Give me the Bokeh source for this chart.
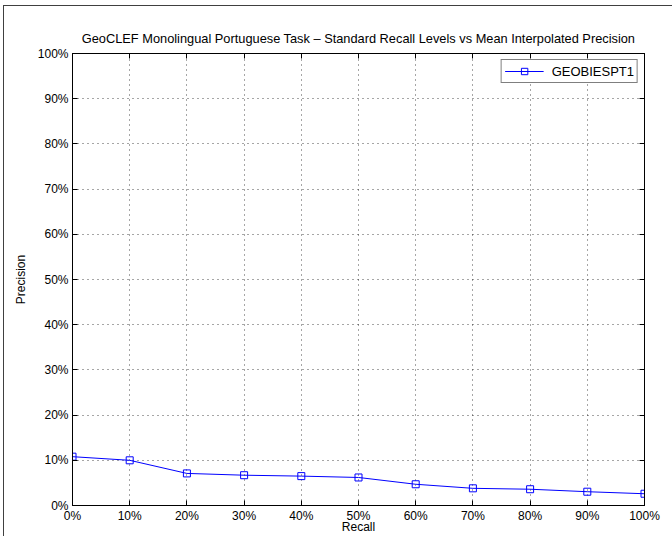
from bokeh.plotting import figure
from bokeh.models import (LinearAxis, FixedTicker, PrintfTickFormatter, Range1d,
                          CustomLabelingPolicy, InlineStyleSheet)
from bokeh.embed import file_html
from bokeh.resources import INLINE

# ---- data ----
recall_levels = [0, 10, 20, 30, 40, 50, 60, 70, 80, 90, 100]
precision_geobiespt1 = [10.8, 10.0, 7.1, 6.7, 6.5, 6.2, 4.7, 3.8, 3.6, 3.05, 2.6]
series_name = "GEOBIESPT1"
x_ticks = [0, 10, 20, 30, 40, 50, 60, 70, 80, 90, 100]
y_ticks = [0, 10, 20, 30, 40, 50, 60, 70, 80, 90, 100]
title_text = "GeoCLEF Monolingual Portuguese Task \u2013 Standard Recall Levels vs Mean Interpolated Precision"
x_label = "Recall"
y_label = "Precision"

FONT = "Liberation Sans"
BLUE = "#0000ff"
TICK_FS = "12px"

p = figure(width=672, height=536, output_backend="svg", toolbar_location=None,
           x_range=Range1d(0, 100), y_range=Range1d(0, 100),
           min_border_left=72, min_border_right=28, min_border_top=53,
           min_border_bottom=31, x_axis_label=x_label, y_axis_label=y_label)
p.background_fill_color = "white"
p.border_fill_color = "white"
p.outline_line_color = "black"
p.outline_line_width = 1
p.outline_line_alpha = 1
# thin dark window edge along the top and left, as in the reference screenshot
p.stylesheets = [InlineStyleSheet(css="""
:host { position: relative; }
:host::after {
  content: "";
  position: absolute;
  left: 3px; top: 5px;
  width: calc(100% - 3px); height: calc(100% - 5px);
  box-sizing: border-box;
  border-top: 1.5px solid #404040;
  border-left: 1.5px solid #404040;
  pointer-events: none;
  z-index: 10;
}
""")]

# title
p.title.text = title_text
p.title.align = "center"
p.title.text_font = FONT
p.title.text_font_size = "12.8px"
p.title.text_font_style = "normal"
p.title.text_color = "black"
p.title.standoff = 7

def style_axis(ax, ticks):
    ax.ticker = FixedTicker(ticks=ticks)
    ax.formatter = PrintfTickFormatter(format="%d%%")
    ax.axis_line_color = "black"
    ax.major_tick_line_color = "black"
    ax.major_tick_in = 5
    ax.major_tick_out = 0
    ax.minor_tick_line_color = None
    ax.major_label_text_font = FONT
    ax.major_label_text_font_size = TICK_FS
    ax.major_label_text_color = "black"
    ax.axis_label_text_font = FONT
    ax.axis_label_text_font_size = TICK_FS
    ax.axis_label_text_font_style = "normal"
    ax.axis_label_text_color = "black"

for ax in p.xaxis:
    style_axis(ax, x_ticks)
    ax.major_label_standoff = 3
    ax.axis_label_standoff = -6
for ax in p.yaxis:
    style_axis(ax, y_ticks)
    ax.major_label_standoff = 4
    ax.axis_label_standoff = 7

# mirrored ticks on top and right (MATLAB box style), no labels drawn there
hide_all = CustomLabelingPolicy(code="""
for (const i of indices) { indices.unset(i) }
return indices
""")
top = LinearAxis(ticker=FixedTicker(ticks=x_ticks))
right = LinearAxis(ticker=FixedTicker(ticks=y_ticks))
for ax in (top, right):
    ax.axis_line_color = "black"
    ax.major_tick_line_color = "black"
    ax.major_tick_in = 5
    ax.major_tick_out = 0
    ax.minor_tick_line_color = None
    ax.major_label_policy = hide_all
    ax.major_label_text_font_size = "1px"
    ax.major_label_standoff = 0
p.add_layout(top, "above")
p.add_layout(right, "right")

# grid
p.xgrid.ticker = FixedTicker(ticks=x_ticks)
p.ygrid.ticker = FixedTicker(ticks=y_ticks)
for g in (p.xgrid, p.ygrid):
    g.grid_line_color = "black"
    g.grid_line_alpha = 0.7
    g.grid_line_dash = "1 4"
    g.grid_line_width = 1

# series
p.line(recall_levels, precision_geobiespt1, line_color=BLUE, line_width=1,
       legend_label=series_name)
p.scatter(recall_levels, precision_geobiespt1, marker="square", size=7,
          line_color=BLUE, fill_color=None, line_width=1, legend_label=series_name)

lg = p.legend[0]
lg.location = "top_right"
lg.margin = 6
lg.padding = 3
lg.spacing = 0
lg.border_line_color = "black"
lg.border_line_width = 1.5
lg.background_fill_color = "white"
lg.background_fill_alpha = 1
lg.label_text_font = FONT
lg.label_text_font_size = "13px"
lg.label_text_color = "black"
lg.glyph_width = 39
lg.glyph_height = 16
lg.label_height = 16
lg.label_standoff = 8

open("out.html", "w").write(file_html(p, INLINE))
